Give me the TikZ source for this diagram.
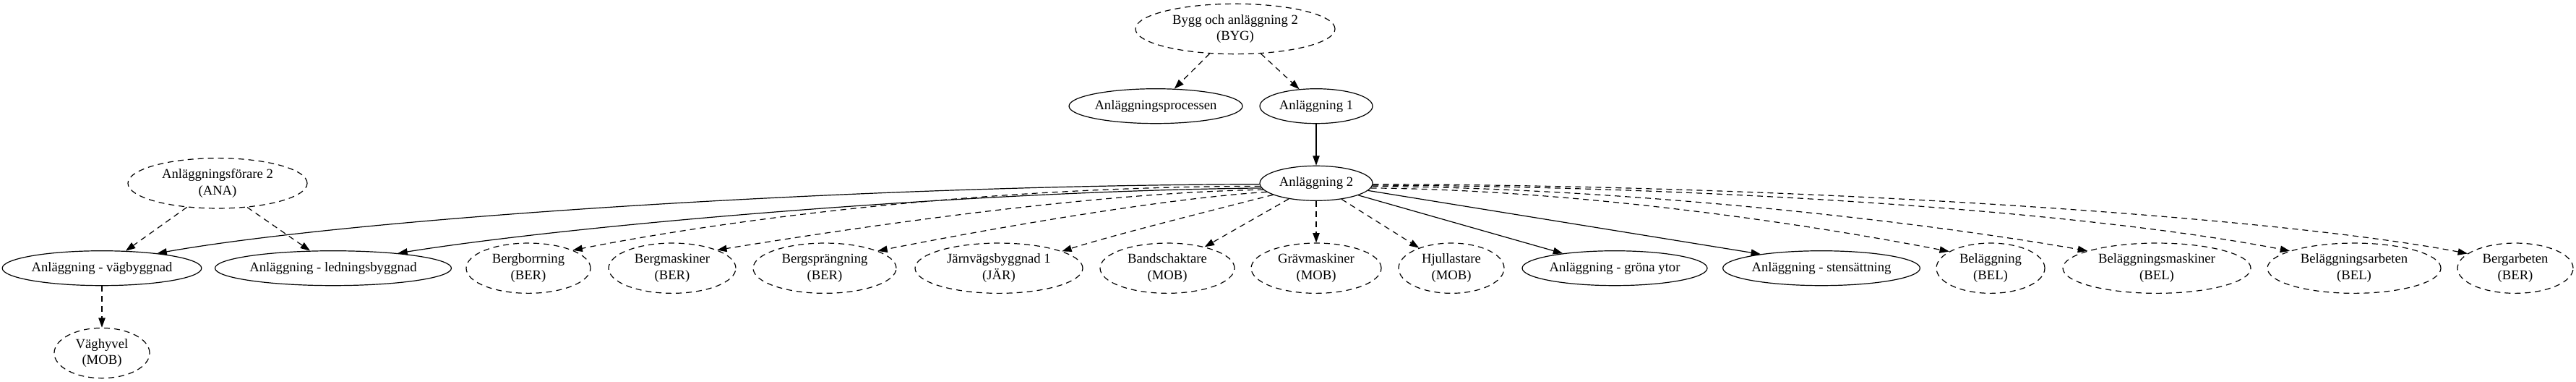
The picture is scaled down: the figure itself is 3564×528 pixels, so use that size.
\documentclass[tikz,border=0pt]{standalone}
\usepackage{fontspec}
\setmainfont{Liberation Serif}
\usetikzlibrary{shapes.geometric,arrows.meta}
\tikzset{
  nbase/.style={ellipse, draw, line width=0.9pt, inner sep=0pt, align=center, font=\fontsize{14}{16.8}\selectfont},
  sol/.style={nbase},
  dsh/.style={nbase, dash pattern=on 6pt off 4.5pt},
  one/.style={minimum height=36pt},
  two/.style={minimum height=52pt},
  e/.style={line width=0.9pt, -{Triangle[length=10pt,width=7pt]}},
  de/.style={e, dash pattern=on 6pt off 4.5pt},
}
\begin{document}
\begin{tikzpicture}[x=0.75pt,y=-0.75pt]
\useasboundingbox (0,0) rectangle (3564,528);
% rank 0
\node[dsh,two,minimum width=207pt] (byg) at (1709,40) {Bygg och anläggning 2\\(BYG)};
% rank 1
\node[sol,one,minimum width=180pt] (proc) at (1599,146.7) {Anläggningsprocessen};
\node[sol,one,minimum width=117pt] (anl1) at (1821,146.7) {Anläggning 1};
% rank 2
\node[sol,one,minimum width=117pt] (anl2) at (1821,253.3) {Anläggning 2};
\node[dsh,two,minimum width=186pt] (ana) at (301,253.3) {Anläggningsförare 2\\(ANA)};
% rank 3
\node[sol,one,minimum width=205.5pt] (vag) at (141,370.7) {Anläggning - vägbyggnad};
\node[sol,one,minimum width=238.5pt] (led) at (461,370.7) {Anläggning - ledningsbyggnad};
\node[dsh,two,minimum width=129pt] (bbor) at (731,370.7) {Bergborrning\\(BER)};
\node[dsh,two,minimum width=132pt] (bmas) at (930,370.7) {Bergmaskiner\\(BER)};
\node[dsh,two,minimum width=148.5pt] (bspr) at (1141,370.7) {Bergsprängning\\(BER)};
\node[dsh,two,minimum width=174pt] (jarn) at (1382,370.7) {Järnvägsbyggnad 1\\(JÄR)};
\node[dsh,two,minimum width=139.5pt] (band) at (1615,370.7) {Bandschaktare\\(MOB)};
\node[dsh,two,minimum width=135pt] (grav) at (1821,370.7) {Grävmaskiner\\(MOB)};
\node[dsh,two,minimum width=109.5pt] (hjul) at (2008,370.7) {Hjullastare\\(MOB)};
\node[sol,one,minimum width=192pt] (gron) at (2234,370.7) {Anläggning - gröna ytor};
\node[sol,one,minimum width=202.5pt] (sten) at (2520,370.7) {Anläggning - stensättning};
\node[dsh,two,minimum width=112.5pt] (bel) at (2754,370.7) {Beläggning\\(BEL)};
\node[dsh,two,minimum width=195pt] (belm) at (2984,370.7) {Beläggningsmaskiner\\(BEL)};
\node[dsh,two,minimum width=180pt] (bela) at (3257,370.7) {Beläggningsarbeten\\(BEL)};
\node[dsh,two,minimum width=120pt] (berg) at (3480,370.7) {Bergarbeten\\(BER)};
% rank 4
\node[dsh,two,minimum width=99pt] (hyv) at (141,488) {Väghyvel\\(MOB)};

% edges
\draw[de] (byg.224) -- (proc.43);
\draw[de] (byg.316) -- (anl1.135);
\draw[e] (anl1) -- (anl2);
\draw[de] (ana.218) -- (vag.36);
\draw[de] (ana.321) -- (led.143);
\draw[de] (vag) -- (hyv);

\draw[e] (anl2.181) .. controls (1200,256) and (500,300) .. (vag.15);
\draw[e] (anl2.185) .. controls (1350,264) and (800,310) .. (led.13);
\draw[de] (anl2.183) .. controls (1350,258) and (1000,305) .. (bbor.22);
\draw[de] (anl2.187) .. controls (1500,266) and (1150,320) .. (bmas.22);
\draw[de] (anl2.190) .. controls (1600,275) and (1350,320) .. (bspr.18);
\draw[de] (anl2.195) .. controls (1660,295) and (1540,325) .. (jarn.15);
\draw[de] (anl2) -- (band);
\draw[de] (anl2) -- (grav);
\draw[de] (anl2) -- (hjul);
\draw[e] (anl2) -- (gron);
\draw[e] (anl2.352) -- (sten.167);
\draw[de] (anl2.355) .. controls (2150,262) and (2450,300) .. (bel.158);
\draw[de] (anl2.357) .. controls (2250,260) and (2650,305) .. (belm.166);
\draw[de] (anl2.358) .. controls (2400,258) and (2900,295) .. (bela.165);
\draw[de] (anl2.359) .. controls (2500,256) and (3150,300) .. (berg.163);
\end{tikzpicture}
\end{document}
